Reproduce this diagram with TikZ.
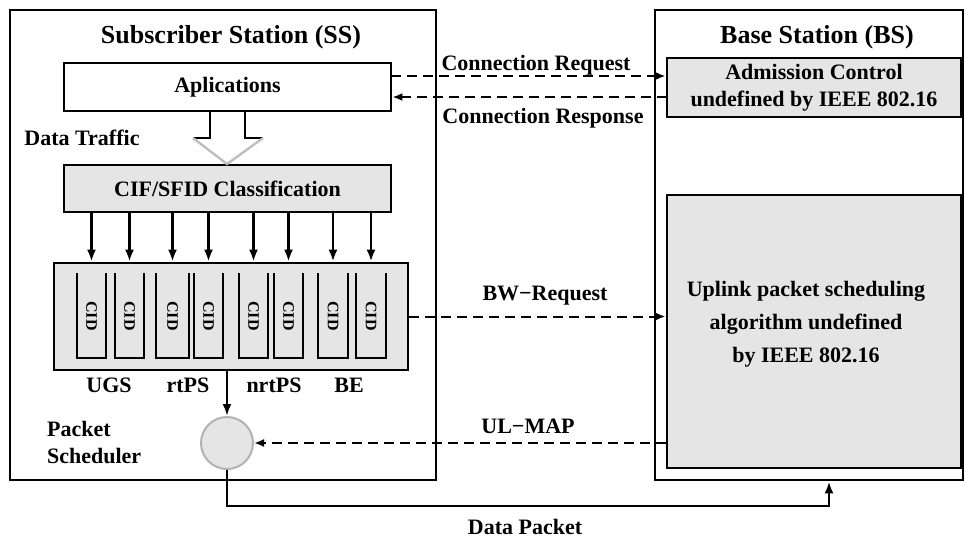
\documentclass[tikz,border=0pt]{standalone}
\usepackage{fontspec}
\setmainfont{Liberation Serif}
\usetikzlibrary{arrows.meta}

\begin{document}
\begin{tikzpicture}[x=0.5pt,y=-0.5pt,
  txt/.style={font=\bfseries\fontsize{11}{13.5}\selectfont},
  ttl/.style={font=\bfseries\fontsize{13}{15}\selectfont},
  box/.style={draw,line width=1.4pt,inner sep=0pt,txt,align=center},
  grey/.style={fill=black!10},
  slot/.style={line width=1.4pt},
  cid/.style={font=\bfseries\fontsize{8}{8}\selectfont,rotate=-90,inner sep=0pt},
  sig/.style={line width=1pt,dash pattern=on 5pt off 3pt,-{Latex[length=5pt,width=4pt]}},
  feed/.style={line width=1.2pt,-{Latex[length=6pt,width=4.5pt]}}]
\useasboundingbox (0,0) rectangle (965,537);

% the two stations
\node[box,minimum width=213pt,minimum height=235pt] (ss) at (223,245) {};
\node[box,minimum width=154pt,minimum height=235pt] (bs) at (809,245) {};
\node[ttl] (sstitle) at (231,37) {Subscriber Station (SS)};
\node[ttl] (bstitle) at (817,37) {Base Station (BS)};

% subscriber side
\node[box,fill=white,minimum width=163.5pt,minimum height=24pt] (apps) at (227.5,87) {Aplications};
\node[box,grey,minimum width=163.5pt,minimum height=23.5pt] (cif) at (227.5,188.5) {CIF/SFID Classification};
\node[box,grey,minimum width=177pt,minimum height=53.5pt] (queues) at (231,316.5) {};
\node[circle,draw=black!30,line width=1pt,fill=black!10,minimum size=26pt,inner sep=0pt] (sched) at (227,443) {};
\node[txt] (traffic) at (82,138) {Data Traffic};
\node[txt,align=left,anchor=west] (schedlbl) at (40,442) {Packet\\Scheduler};

% hollow arrow from the applications
\draw[line width=1.2pt] (210,111) -- (210,138) -- (193,138);
\draw[line width=1.2pt] (245,111) -- (245,138) -- (263,138);
\draw[black!25,line width=1.2pt] (193,138) -- (227,164) -- (263,138);

% queues
\draw[slot] (77,273) -- (77,358) -- (106,358) -- (106,273);
\draw[slot] (115,273) -- (115,358) -- (144,358) -- (144,273);
\draw[slot] (156,273) -- (156,358) -- (189,358) -- (189,273);
\draw[slot] (194,273) -- (194,358) -- (223,358) -- (223,273);
\draw[slot] (239,273) -- (239,358) -- (268,358) -- (268,273);
\draw[slot] (274,273) -- (274,358) -- (303,358) -- (303,273);
\draw[slot] (318,273) -- (318,358) -- (348,358) -- (348,273);
\draw[slot] (356,273) -- (356,358) -- (386,358) -- (386,273);
\node[cid] (c1) at (91.5,316) {CID};
\node[cid] (c2) at (129.5,316) {CID};
\node[cid] (c3) at (172.5,316) {CID};
\node[cid] (c4) at (208.5,316) {CID};
\node[cid] (c5) at (253.5,316) {CID};
\node[cid] (c6) at (288.5,316) {CID};
\node[cid] (c7) at (333,316) {CID};
\node[cid] (c8) at (371,316) {CID};
\node[txt] (ugs) at (109,385) {UGS};
\node[txt] (rtps) at (188,385) {rtPS};
\node[txt] (nrtps) at (274,385) {nrtPS};
\node[txt] (be) at (349,385) {BE};

% classification into the queues
\draw[feed] (c1 |- cif.south) -- (c1 |- queues.north);
\draw[feed] (c2 |- cif.south) -- (c2 |- queues.north);
\draw[feed] (c3 |- cif.south) -- (c3 |- queues.north);
\draw[feed] (c4 |- cif.south) -- (c4 |- queues.north);
\draw[feed] (c5 |- cif.south) -- (c5 |- queues.north);
\draw[feed] (c6 |- cif.south) -- (c6 |- queues.north);
\draw[feed] (c7 |- cif.south) -- (c7 |- queues.north);
\draw[feed] (c8 |- cif.south) -- (c8 |- queues.north);
\draw[feed] (sched.north |- queues.south) -- (sched.north);

% base station side
\node[box,grey,minimum width=147pt,minimum height=29.5pt] (adm) at (814,87.5) {Admission Control\\undefined by IEEE 802.16};
\node[box,grey,minimum width=147pt,minimum height=136.5pt] (uplink) at (814,331.5) {};
\node[txt,align=center,font=\bfseries\fontsize{11}{16.5}\selectfont] (uplinktxt) at (806,324) {Uplink packet scheduling\\algorithm undefined\\by IEEE 802.16};

% messages between the stations
\coordinate (req) at (391,76);
\coordinate (rsp) at (667,97);
\coordinate (dpk) at (829,506);
\draw[sig] (req) -- (req -| adm.west);
\draw[sig] (rsp) -- (rsp -| apps.east);
\draw[sig] (queues.east) -- (queues.east -| uplink.west);
\draw[sig] (sched.east -| uplink.west) -- (sched.east);
\draw[line width=1.2pt,-{Latex[length=6pt,width=4.5pt]}] (sched.south) |- (dpk) -- (dpk |- bs.south);
\node[txt] (reqlbl) at (536,65) {Connection Request};
\node[txt] (rsplbl) at (543,118) {Connection Response};
\node[txt] (bwlbl) at (545,296) {BW−Request};
\node[txt] (maplbl) at (528,426) {UL−MAP};
\node[txt] (dpklbl) at (525,527) {Data Packet};
\end{tikzpicture}
\end{document}
